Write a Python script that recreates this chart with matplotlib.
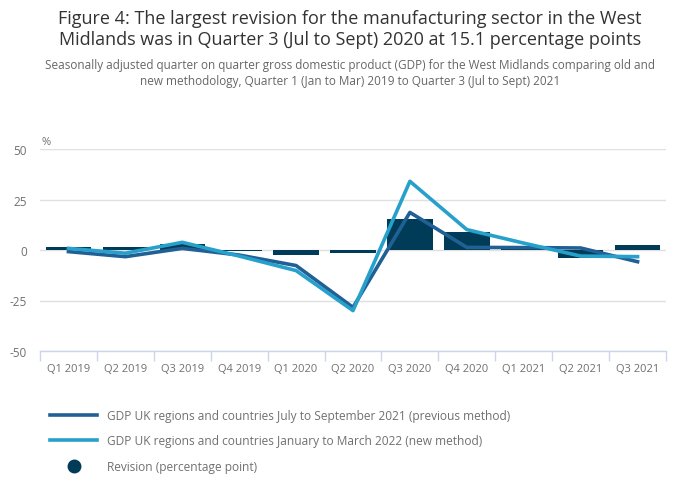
import matplotlib
matplotlib.use("Agg")
import matplotlib.pyplot as plt
from matplotlib.lines import Line2D
import numpy as np

categories = ["Q1 2019", "Q2 2019", "Q3 2019", "Q4 2019", "Q1 2020", "Q2 2020",
              "Q3 2020", "Q4 2020", "Q1 2021", "Q2 2021", "Q3 2021"]
old_method = [-0.8, -3.3, 0.8, -2.5, -7.7, -28.4, 18.6, 1.3, 1.2, 1.0, -5.8]
new_method = [0.8, -1.6, 3.8, -3.0, -10.2, -30.0, 34.0, 10.1, 3.4, -3.0, -3.3]
revision = [1.6, 1.7, 3.0, -0.5, -2.5, -1.6, 15.1, 8.8, 2.2, -4.0, 2.5]
yticks = [-50, -25, 0, 25, 50]

title = ("Figure 4: The largest revision for the manufacturing sector in the West\n"
         "Midlands was in Quarter 3 (Jul to Sept) 2020 at 15.1 percentage points")
subtitle = ("Seasonally adjusted quarter on quarter gross domestic product (GDP) for the West Midlands comparing old and\n"
            "new methodology, Quarter 1 (Jan to Mar) 2019 to Quarter 3 (Jul to Sept) 2021")

plt.rcParams['font.family'] = ['Open Sans', 'DejaVu Sans']

C_OLD = "#206095"
C_NEW = "#27a0cc"
C_BAR = "#003c57"
C_TXT = "#707070"

W, H = 700, 502
fig = plt.figure(figsize=(7, 5.02), dpi=100)
ax = fig.add_axes([40 / W, 1 - 352 / H, (666 - 40) / W, 202 / H])

x = np.arange(len(categories))
ax.bar(x, revision, width=0.8, color=C_BAR, zorder=2)
ax.plot(x, old_method, color=C_OLD, lw=2.6, zorder=3)
ax.plot(x, new_method, color=C_NEW, lw=2.6, zorder=4)

ax.set_xlim(-0.5, len(categories) - 0.5)
ax.set_ylim(-50, 50)
ax.set_yticks(yticks)
ax.set_yticklabels([str(t) for t in yticks])
ax.grid(axis='y', color="#e0e0e0", lw=1, zorder=0)
ax.set_axisbelow(True)
for s in ["top", "right", "left"]:
    ax.spines[s].set_visible(False)
ax.spines["bottom"].set_color("#ccd6eb")
ax.spines["bottom"].set_linewidth(1)

ax.set_xticks(x)
ax.set_xticklabels(categories)
ax.set_xticks(np.arange(-0.5, len(categories)), minor=True)
ax.tick_params(axis='x', which='major', length=0, pad=9, labelsize=8, labelcolor=C_TXT)
ax.tick_params(axis='x', which='minor', length=7, color="#ccd6eb", width=1)
ax.tick_params(axis='y', length=0, pad=9.5, labelsize=8.5, labelcolor=C_TXT)

fig.text(41 / W, 1 - 143 / H, "%", fontsize=8, color=C_TXT, va='center', ha='left')

fig.text(0.5, 1 - 29.5 / H, title, ha='center', va='center', fontsize=13.0,
         color="#333333", linespacing=1.2)
fig.text(0.5, 1 - 74 / H, subtitle, ha='center', va='center', fontsize=8.5,
         color="#666666", linespacing=1.3)

handles = [
    Line2D([], [], color=C_OLD, lw=2.6),
    Line2D([], [], color=C_NEW, lw=2.6),
    Line2D([], [], color=C_BAR, lw=0, marker='o', markersize=9),
]
labels = ["GDP UK regions and countries July to September 2021 (previous method)",
          "GDP UK regions and countries January to March 2022 (new method)",
          "Revision (percentage point)"]
fig.legend(handles, labels, loc='upper left', bbox_to_anchor=(45 / W, 1 - 405 / H),
           frameon=False, fontsize=8.55, labelcolor=C_TXT, handlelength=4.0,
           handletextpad=0.8, labelspacing=1.05, borderaxespad=0)

fig.savefig("out.png", dpi=100)
